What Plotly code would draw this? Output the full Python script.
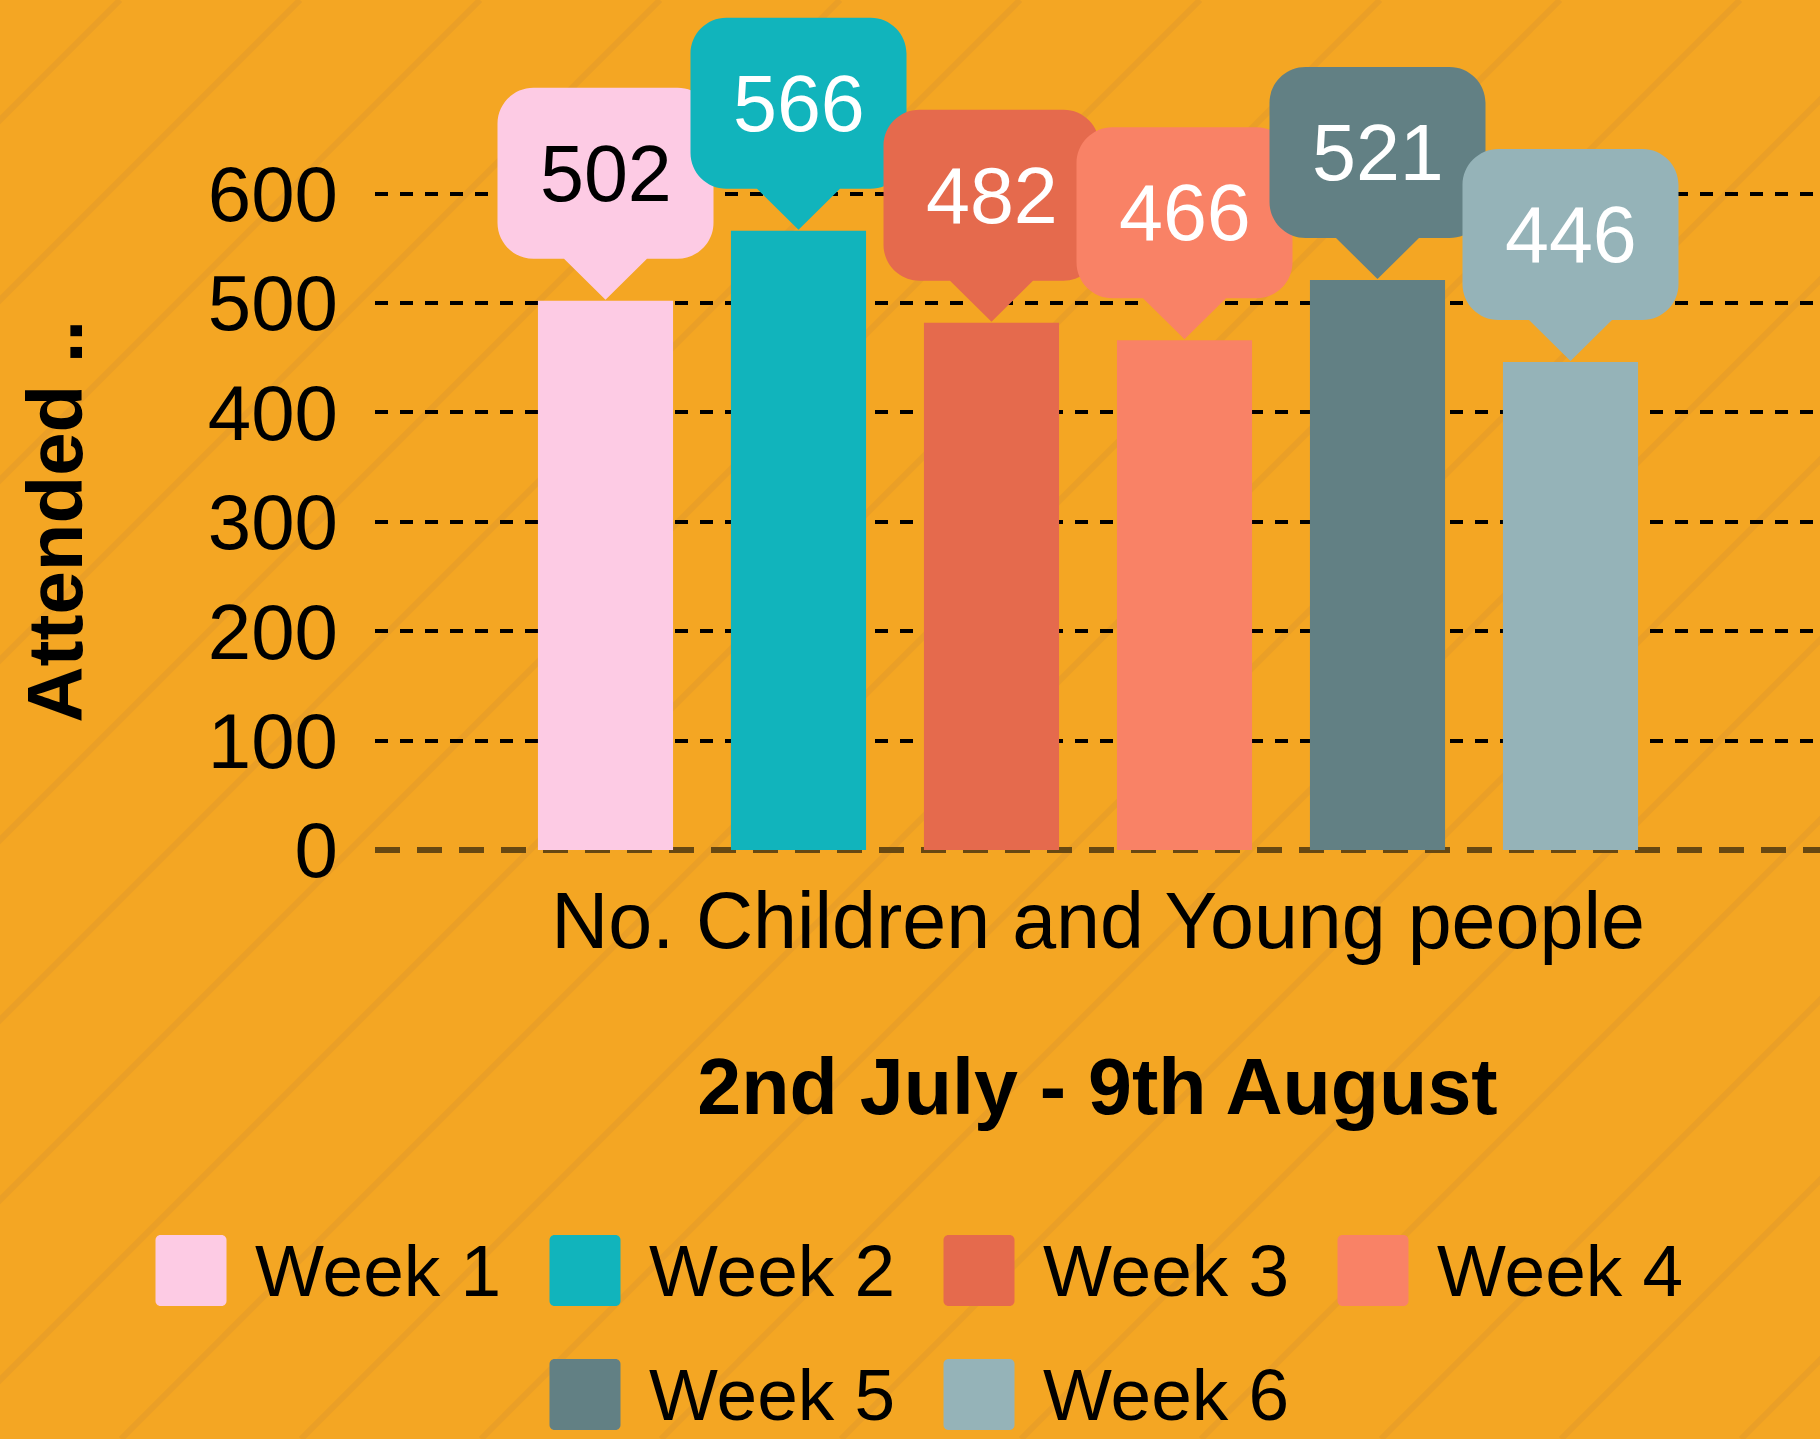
import plotly.graph_objects as go

# ---------------- data ----------------
category = "No. Children and Young people"
weeks = ["Week 1", "Week 2", "Week 3", "Week 4", "Week 5", "Week 6"]
values = [502, 566, 482, 466, 521, 446]
bar_colors = ["#FDCBE4", "#11B4BC", "#E56A4D", "#F98266", "#628084", "#95B3B8"]
label_colors = ["#000000", "#FFFFFF", "#FFFFFF", "#FFFFFF", "#FFFFFF", "#FFFFFF"]
y_ticks = [0, 100, 200, 300, 400, 500, 600]
y_title = "Attended .."
x_title = "2nd July - 9th August"

# ---------------- layout geometry ----------------
W, H = 1820, 1439
ML, MR, MT, MB = 375, 0, 5, 589
plot_w = W - ML - MR
plot_h = H - MT - MB
px_per_unit = 1.094
y_max = plot_h / px_per_unit
n = len(weeks)
slot_px = 193
cat_center_px = 1088
x_left = -(cat_center_px - ML) / (n * slot_px)
x_right = x_left + plot_w / (n * slot_px)

BG = "#F4A623"
FONT = "Liberation Sans, Arial, sans-serif"


def xp(px):
    return (px - ML) / plot_w


def yp(py):
    return (H - MB - py) / plot_h


def rounded_path(x0, x1, y0, y1, r, pointer=None):
    k = 0.5523 * r
    seg = [f"M{x0 + r},{y0}"]
    if pointer is not None:
        pw, tip = pointer
        seg += [f"L{-pw},{y0}", f"L0,{tip}", f"L{pw},{y0}"]
    seg += [
        f"L{x1 - r},{y0}",
        f"C{x1 - r + k},{y0} {x1},{y0 + r - k} {x1},{y0 + r}",
        f"L{x1},{y1 - r}",
        f"C{x1},{y1 - r + k} {x1 - r + k},{y1} {x1 - r},{y1}",
        f"L{x0 + r},{y1}",
        f"C{x0 + r - k},{y1} {x0},{y1 - r + k} {x0},{y1 - r}",
        f"L{x0},{y0 + r}",
        f"C{x0},{y0 + r - k} {x0 + r - k},{y0} {x0 + r},{y0}",
        "Z",
    ]
    return " ".join(seg)


fig = go.Figure()
for i, (wk, v, c) in enumerate(zip(weeks, values, bar_colors)):
    fig.add_trace(go.Bar(
        x=[category], y=[v], name=wk, marker=dict(color=c, line=dict(width=0)),
        cliponaxis=False, showlegend=False, hoverinfo="skip",
    ))

shapes = []
annotations = []

# background diagonal stripes
k = 0
while True:
    cpx = 120 + k * 180
    if cpx - H > W:
        break
    shapes.append(dict(
        type="line", xref="paper", yref="paper", layer="below",
        x0=xp(cpx), y0=yp(0), x1=xp(cpx - H), y1=yp(H),
        line=dict(color="rgba(190,130,60,0.18)", width=6),
    ))
    k += 1

# zero line (bottom edge of the plot area = value 0)
shapes.append(dict(
    type="line", xref="paper", yref="paper", layer="between",
    x0=0, x1=1, y0=0, y1=0,
    line=dict(color="#674812", width=6, dash="25px,17px"),
))

# speech bubbles with values
bubble = rounded_path(-108, 108, 42, 213, 36, pointer=(41.5, 1))
for i, (v, c, lc) in enumerate(zip(values, bar_colors, label_colors)):
    xc = -0.5 + (i + 0.5) / n
    shapes.append(dict(
        type="path", xref="x", yref="y", xsizemode="pixel", ysizemode="pixel",
        xanchor=xc, yanchor=v, path=bubble, fillcolor=c,
        line=dict(width=0), layer="above",
    ))
    annotations.append(dict(
        x=xc, y=v, xref="x", yref="y", yshift=127.5, showarrow=False,
        text=str(v), font=dict(family=FONT, size=79, color=lc),
        xanchor="center", yanchor="middle",
    ))

# y-axis title
annotations.append(dict(
    x=0, y=300, xref="paper", yref="y", xshift=55 - ML, showarrow=False,
    text=y_title, textangle=-90, xanchor="center", yanchor="middle",
    font=dict(family=FONT, size=78, color="#000000", weight="bold"),
))

# manual legend (two centred rows)
per_row = 4
pitch, sw, txt_off, txt_w = 394, 71, 97, 240
row_y = [1270.5, 1394.5]
center_px = 915
for r in range((n + per_row - 1) // per_row):
    items = list(range(r * per_row, min(n, (r + 1) * per_row)))
    width = (len(items) - 1) * pitch + txt_off + txt_w
    start = center_px - width / 2
    for j, i in enumerate(items):
        sx = start + j * pitch
        shapes.append(dict(
            type="path", xref="paper", yref="paper", xsizemode="pixel", ysizemode="pixel",
            xanchor=xp(sx), yanchor=yp(row_y[r]),
            path=rounded_path(0, sw, -sw / 2, sw / 2, 5),
            fillcolor=bar_colors[i], line=dict(width=0), layer="above",
        ))
        annotations.append(dict(
            x=xp(sx + txt_off), y=yp(row_y[r]), xref="paper", yref="paper",
            showarrow=False, text=weeks[i], xanchor="left", yanchor="middle",
            font=dict(family=FONT, size=73, color="#000000"),
        ))

fig.update_layout(
    width=W, height=H,
    margin=dict(l=ML, r=MR, t=MT, b=MB, autoexpand=False),
    paper_bgcolor=BG, plot_bgcolor="rgba(0,0,0,0)",
    barmode="group", bargap=0, bargroupgap=0.3,
    font=dict(family=FONT, color="#000000"),
    showlegend=False,
    shapes=shapes, annotations=annotations,
    xaxis=dict(
        type="category", range=[x_left, x_right], showgrid=False, zeroline=False,
        showline=False, ticks="", tickfont=dict(size=79, family=FONT),
        ticklabelstandoff=18, ticklabelshift=10,
        title=dict(text=x_title, font=dict(size=79, family=FONT, weight="bold"), standoff=94),
    ),
    yaxis=dict(
        range=[0, y_max], tickvals=y_ticks, showgrid=True, gridcolor="#000000",
        gridwidth=3.5, griddash="13px,12px", zeroline=False, showline=False, ticks="",
        tickfont=dict(size=78, family=FONT), ticklabelstandoff=36,
    ),
)

fig.write_html(
    "out.html",
    config={"displayModeBar": False},
    post_script="document.body.style.margin='0';document.body.style.overflow='hidden';",
)
